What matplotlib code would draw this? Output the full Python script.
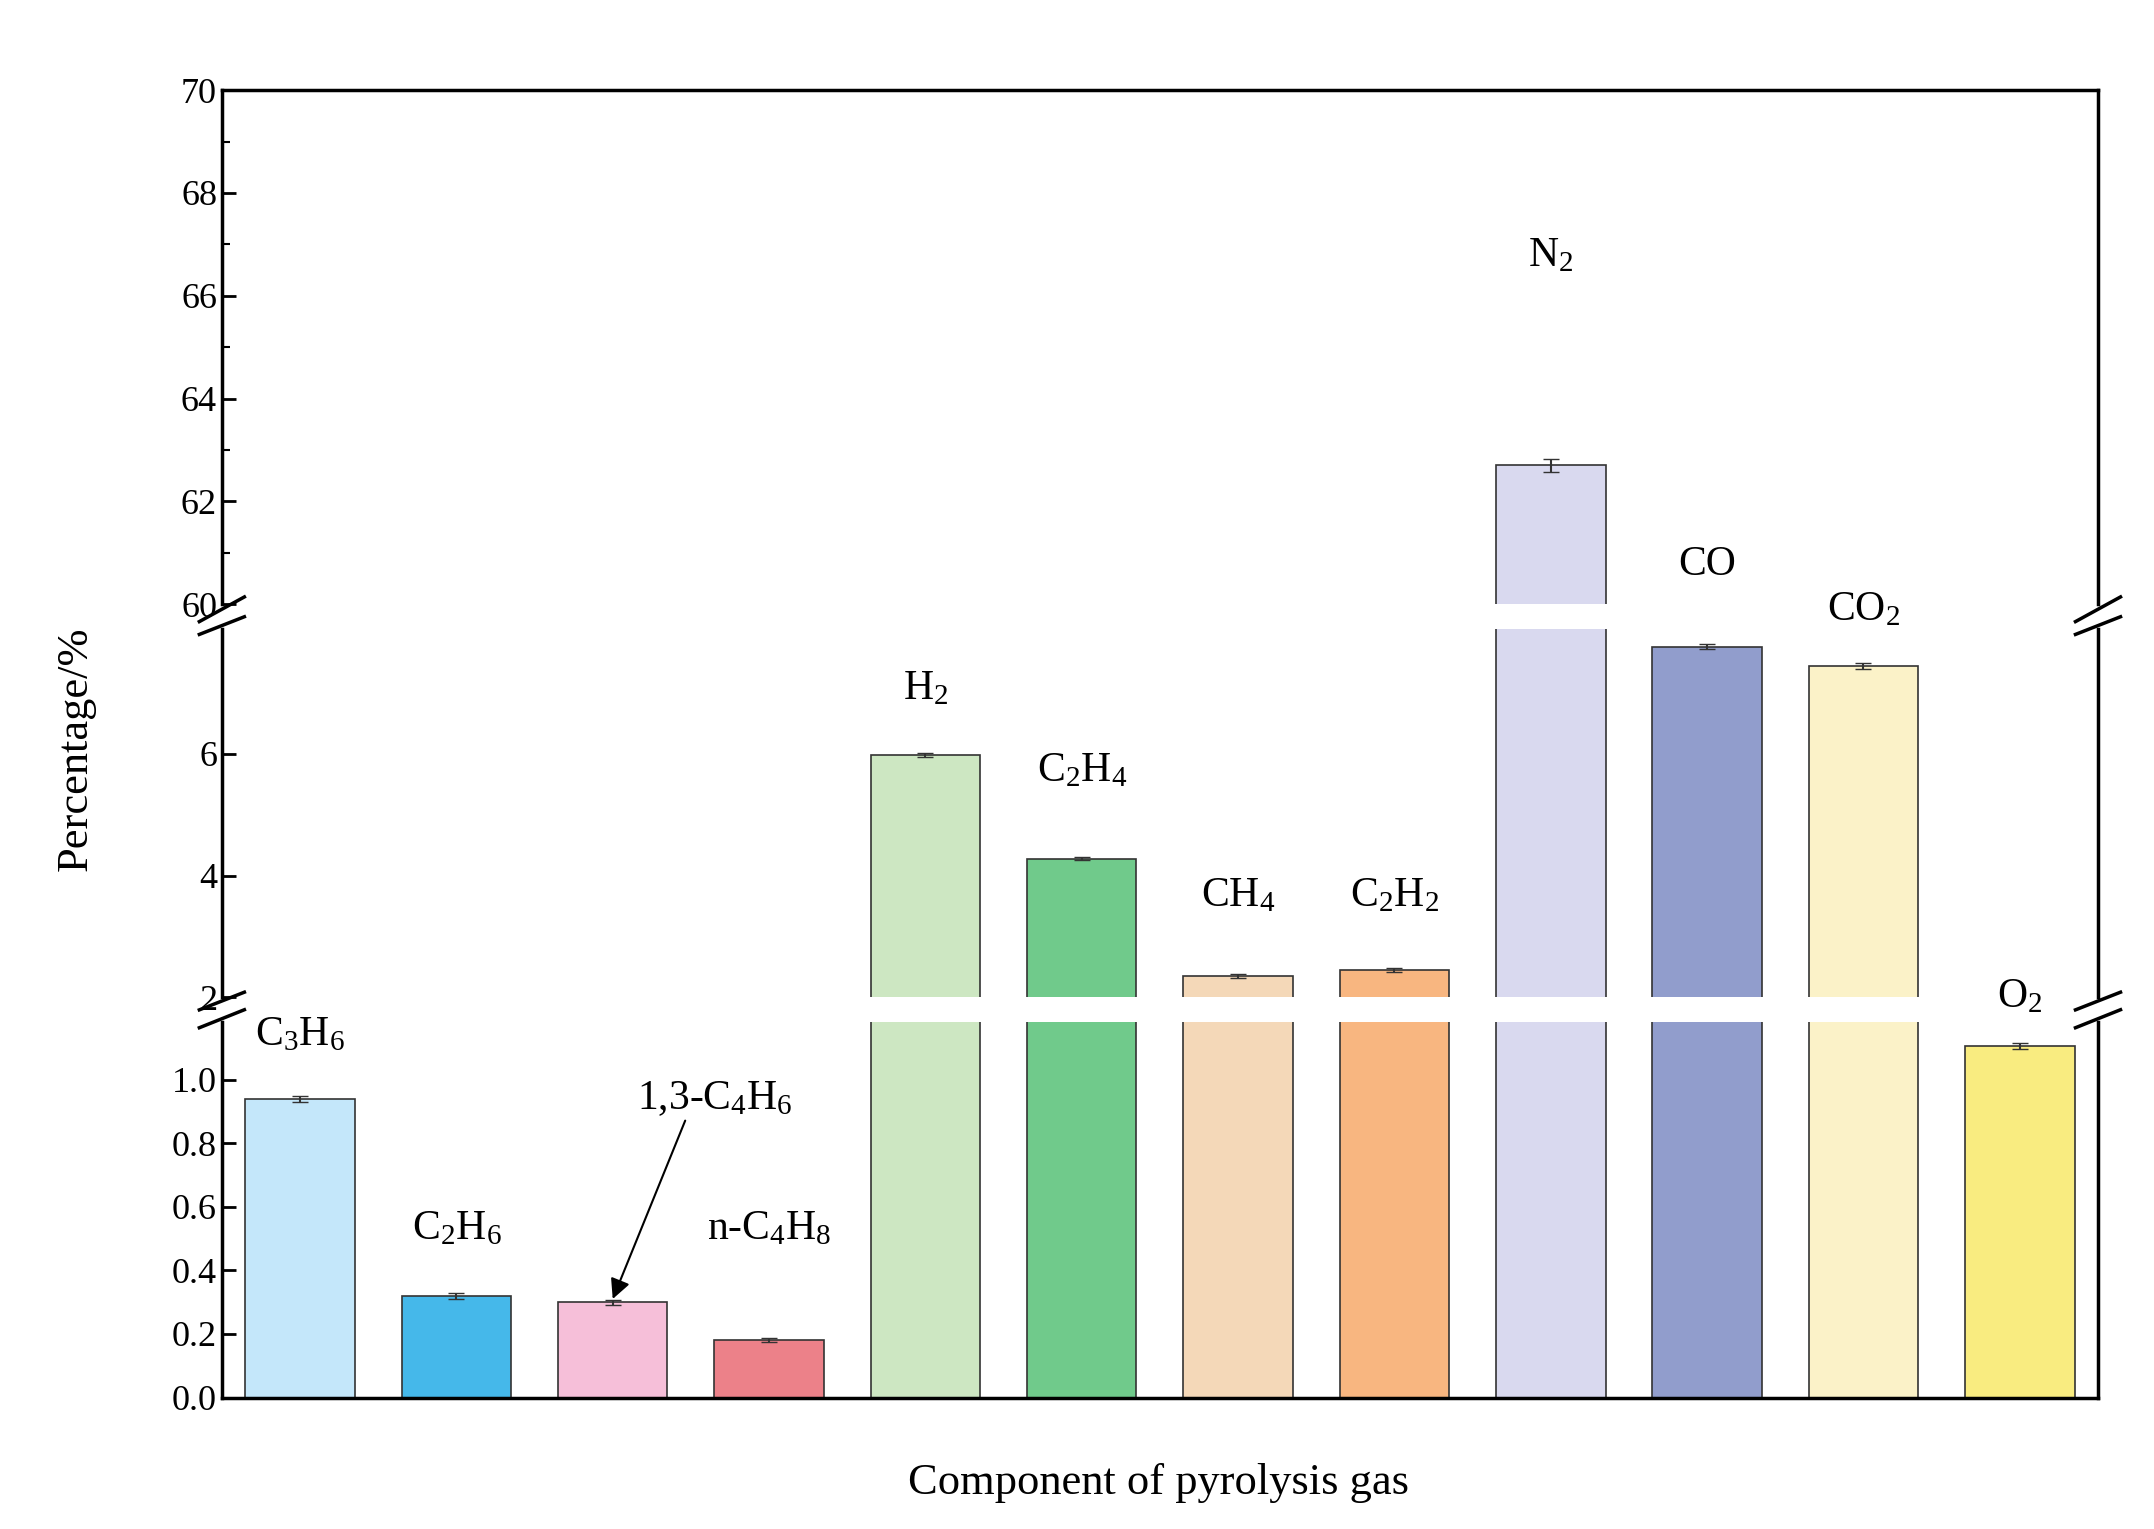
import matplotlib
matplotlib.use("Agg")
import matplotlib.pyplot as plt
import numpy as np

plt.rcParams['font.family'] = ['Liberation Serif', 'DejaVu Serif']
plt.rcParams['mathtext.fontset'] = 'custom'
plt.rcParams['mathtext.rm'] = 'Liberation Serif'
plt.rcParams['mathtext.default'] = 'regular'

labels = [r'C$_3$H$_6$', r'C$_2$H$_6$', r'1,3-C$_4$H$_6$', r'n-C$_4$H$_8$', r'H$_2$', r'C$_2$H$_4$',
          r'CH$_4$', r'C$_2$H$_2$', r'N$_2$', 'CO', r'CO$_2$', r'O$_2$']
values = [0.94, 0.32, 0.30, 0.18, 5.98, 4.28, 2.35, 2.45, 62.7, 7.76, 7.44, 1.105]
errors = [0.01, 0.01, 0.008, 0.006, 0.03, 0.03, 0.03, 0.03, 0.12, 0.04, 0.05, 0.01]
colors = ['#c4e7fa', '#45b8ea', '#f6bfd9', '#ec8189', '#cde7c2', '#70ca8b',
          '#f4d8b8', '#f8b680', '#d9d9ef', '#919dcc', '#fbf2c8', '#f9ec80']
# label positions: (axis index, y value)
label_pos = [(2, 1.08), (2, 0.47), None, (2, 0.47), (1, 6.75), (1, 5.4),
             (1, 3.35), (1, 3.35), (0, 66.4), (0, 60.4), (1, 8.05), (2, 1.2)]

fig = plt.figure(figsize=(21.54, 15.29), dpi=100)
gs = fig.add_gridspec(3, 1, height_ratios=[370, 265, 270], hspace=0.06,
                      left=0.103, right=0.974, top=0.941, bottom=0.086)
axes = [fig.add_subplot(gs[i]) for i in range(3)]
lims = [(60, 70), (2, 8.05), (0, 1.18)]
ticks = [np.arange(60, 71, 2), [2, 4, 6], np.arange(0, 1.01, 0.2)]
x = np.arange(len(values))

for i, ax in enumerate(axes):
    ax.bar(x, values, width=0.7, color=colors, edgecolor='#333333', linewidth=1.2)
    ax.errorbar(x, values, yerr=errors, fmt='none', ecolor='#333333', capsize=6, elinewidth=1.5)
    ax.set_ylim(*lims[i])
    ax.set_xlim(-0.5, 11.5)
    ax.set_yticks(ticks[i])
    ax.set_xticks([])
    ax.tick_params(axis='y', direction='in', labelsize=26, width=2, length=10, right=False)
    for s in ax.spines.values():
        s.set_linewidth(2.5)
    if i > 0:
        ax.spines['top'].set_visible(False)
    if i < 2:
        ax.spines['bottom'].set_visible(False)
    # break marks
    d = 0.012
    kw = dict(transform=ax.transAxes, color='k', lw=2.5, clip_on=False)
    if i < 2:
        for xx in (0, 1):
            ax.plot([xx - d, xx + d], [-0.01 - d * 2, -0.01 + d * 2], **kw)
    if i > 0:
        for xx in (0, 1):
            ax.plot([xx - d, xx + d], [1.01 - d * 2, 1.01 + d * 2], **kw)

axes[0].set_yticks(np.arange(60, 71, 1), minor=True)
axes[0].tick_params(axis='y', which='minor', direction='in', length=6, width=1.5)
axes[2].set_yticklabels(['0.0', '0.2', '0.4', '0.6', '0.8', '1.0'])

for j, lp in enumerate(label_pos):
    if lp is None:
        continue
    axes[lp[0]].text(x[j], lp[1], labels[j], ha='center', va='bottom', fontsize=30, clip_on=False)

axes[2].annotate(labels[2], xy=(2.0, 0.31), xytext=(2.65, 0.88), fontsize=30, ha='center', va='bottom',
                 arrowprops=dict(arrowstyle='-|>', color='k', lw=1.5, shrinkA=0, shrinkB=0,
                                 relpos=(0.32, 0.0)))

fig.text(0.035, 0.51, 'Percentage/%', rotation=90, ha='center', va='center', fontsize=32)
fig.text(0.538, 0.03, 'Component of pyrolysis gas', ha='center', va='center', fontsize=32)

fig.savefig('out.png', dpi=100)
